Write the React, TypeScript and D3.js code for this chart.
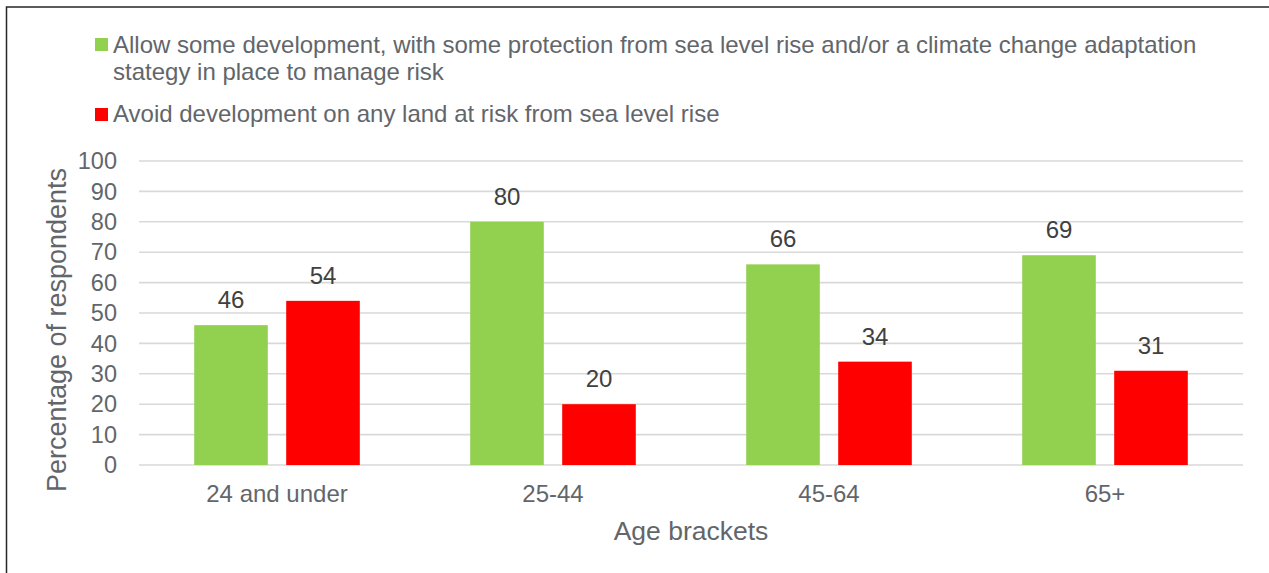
import React from "react";
import * as d3 from "d3";

const categories = ["24 and under", "25-44", "45-64", "65+"];
const seriesNames = [
  "Allow some development, with some protection from sea level rise and/or a climate change adaptation stategy in place to manage risk",
  "Avoid development on any land at risk from sea level rise",
];
const legendLines = [
  ["Allow some development, with some protection from sea level rise and/or a climate change adaptation", "stategy in place to manage risk"],
  ["Avoid development on any land at risk from sea level rise"],
];
const allowValues = [46, 80, 66, 69];
const avoidValues = [54, 20, 34, 31];
const yTicks = [0, 10, 20, 30, 40, 50, 60, 70, 80, 90, 100];
const colors = ["#92D050", "#FF0000"];

const W = 1269;
const H = 573;
const FONT = "'Liberation Sans', Arial, sans-serif";
const TEXT = "#62666b";
const LABEL = "#404040";

export default function App() {
  const plot = { left: 139, right: 1243, top: 161, bottom: 465 };
  const x0 = d3.scaleBand<string>().domain(categories).range([plot.left, plot.right]).padding(0);
  const x1 = d3
    .scaleBand<string>()
    .domain(seriesNames)
    .range([0, x0.bandwidth()])
    .paddingInner(0.2)
    .paddingOuter(0.6);
  const y = d3.scaleLinear().domain([0, 100]).range([plot.bottom, plot.top]);
  const series = [allowValues, avoidValues];

  return (
    <svg
      width={W}
      height={H}
      style={{ position: "absolute", left: 0, top: 0, background: "#fff" }}
      fontFamily={FONT}
    >
      <rect x={0} y={0} width={W} height={H} fill="#fff" />
      <rect x={6.5} y={7} width={W + 20} height={H + 20} fill="none" stroke="#262626" strokeWidth={1.5} />

      {/* legend */}
      <g>
        <rect x={95} y={38} width={13} height={13} fill={colors[0]} />
        <text x={113} y={53} fontSize={24} fill={TEXT}>
          {legendLines[0][0]}
        </text>
        <text x={113} y={80} fontSize={24} fill={TEXT}>
          {legendLines[0][1]}
        </text>
        <rect x={95} y={108} width={13} height={13} fill={colors[1]} />
        <text x={113} y={122} fontSize={24} fill={TEXT}>
          {legendLines[1][0]}
        </text>
      </g>

      {/* gridlines and y ticks */}
      {yTicks.map((t) => (
        <g key={t}>
          <line x1={plot.left} x2={plot.right} y1={y(t)} y2={y(t)} stroke="#d9d9d9" strokeWidth={1.6} />
          <text x={117} y={y(t)} dy="0.35em" textAnchor="end" fontSize={23.5} fill={TEXT}>
            {t}
          </text>
        </g>
      ))}

      {/* bars */}
      {categories.map((c, i) => (
        <g key={c} transform={`translate(${x0(c)},0)`}>
          {seriesNames.map((s, j) => {
            const v = series[j][i];
            const bx = x1(s)!;
            const bw = x1.bandwidth();
            return (
              <g key={s}>
                <rect x={bx} y={y(v)} width={bw} height={y(0) - y(v)} fill={colors[j]} />
                <text
                  x={bx + bw / 2}
                  y={y(v) - 17}
                  textAnchor="middle"
                  fontSize={24}
                  fill={LABEL}
                >
                  {v}
                </text>
              </g>
            );
          })}
          <text x={x0.bandwidth() / 2} y={502} textAnchor="middle" fontSize={24} fill={TEXT}>
            {c}
          </text>
        </g>
      ))}

      {/* axis titles */}
      <text x={(plot.left + plot.right) / 2} y={540} textAnchor="middle" fontSize={26.5} fill={TEXT}>
        Age brackets
      </text>
      <text
        transform={`translate(66,330) rotate(-90)`}
        textAnchor="middle"
        fontSize={27}
        fill={TEXT}
      >
        Percentage of respondents
      </text>
    </svg>
  );
}
